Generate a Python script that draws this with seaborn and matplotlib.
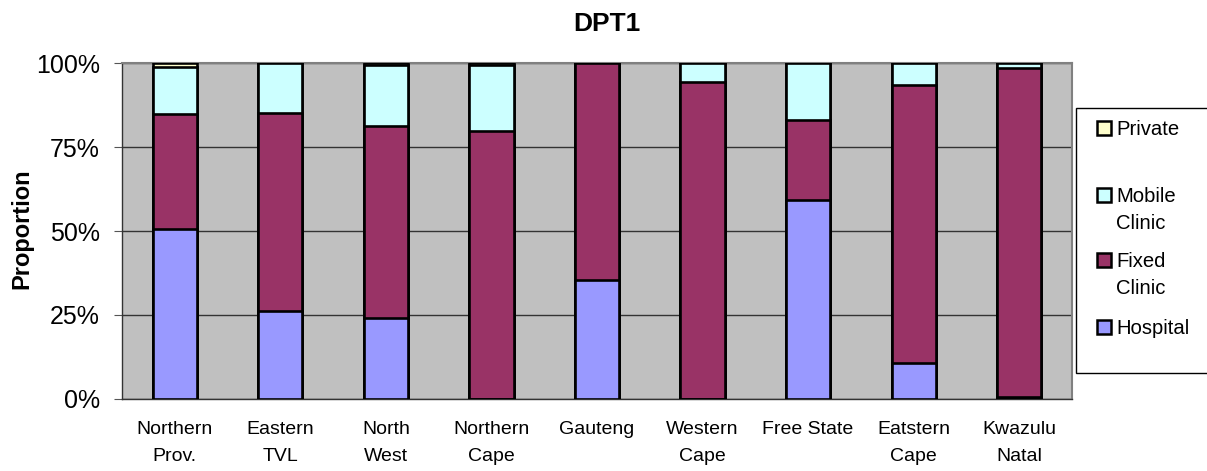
import matplotlib
matplotlib.use("Agg")
import matplotlib.pyplot as plt
import seaborn as sns
import pandas as pd
import numpy as np
from matplotlib.patches import Rectangle
from matplotlib.ticker import PercentFormatter, FixedLocator

provinces = ["Northern\nProv.", "Eastern\nTVL", "North\nWest", "Northern\nCape", "Gauteng",
             "Western\nCape", "Free State", "Eatstern\nCape", "Kwazulu\nNatal"]
hospital = [0.505, 0.262, 0.240, 0.000, 0.354, 0.000, 0.592, 0.107, 0.005]
fixed_clinic = [0.343, 0.589, 0.573, 0.798, 0.646, 0.944, 0.238, 0.827, 0.980]
mobile_clinic = [0.140, 0.149, 0.182, 0.196, 0.000, 0.056, 0.170, 0.066, 0.015]
private = [0.012, 0.000, 0.005, 0.006, 0.000, 0.000, 0.000, 0.000, 0.000]

series = ["Hospital", "Fixed Clinic", "Mobile Clinic", "Private"]
colors = {"Hospital": "#9999FF", "Fixed Clinic": "#993366",
          "Mobile Clinic": "#CCFFFF", "Private": "#FFFFCC"}

df = pd.DataFrame({"Province": provinces, "Hospital": hospital, "Fixed Clinic": fixed_clinic,
                   "Mobile Clinic": mobile_clinic, "Private": private})
cum = df[series].cumsum(axis=1)

sns.set_style("white", {"text.color": "black", "axes.labelcolor": "black",
                        "xtick.color": "black", "ytick.color": "black"})
plt.rcParams["font.family"] = ["Liberation Sans", "DejaVu Sans"]

W, H = 1207, 471
fig = plt.figure(figsize=(W / 100, H / 100), dpi=100)
ax = fig.add_axes([122 / W, 1 - 399 / H, 950 / W, 336 / H])
ax.set_facecolor("#C0C0C0")

# draw cumulative totals from the top layer down so each stack shows through
for s in reversed(series):
    sns.barplot(x=df["Province"], y=cum[s], color=colors[s], width=0.42,
                edgecolor="black", linewidth=1.9, saturation=1, ax=ax, zorder=3)

ax.set_ylim(0, 1)
ax.set_xlim(-0.5, len(provinces) - 0.5)
ax.yaxis.set_major_locator(FixedLocator([0, 0.25, 0.5, 0.75, 1.0]))
ax.yaxis.set_major_formatter(PercentFormatter(1.0, decimals=0))
ax.grid(axis="y", color="#333333", linewidth=1, zorder=1)
ax.set_axisbelow(True)

ax.set_xticks(range(len(provinces)))
ax.set_xticklabels(provinces, fontsize=14, linespacing=1.75)
ax.set_xticks(np.arange(-0.5, len(provinces), 1), minor=True)
ax.tick_params(axis="x", which="major", length=0, pad=16)
ax.tick_params(axis="x", which="minor", length=5, color="#555555", direction="out")
ax.tick_params(axis="y", labelsize=18, length=6, color="#555555", direction="out",
               left=True, pad=10)

for side in ["top", "right"]:
    ax.spines[side].set_color("#808080")
    ax.spines[side].set_linewidth(1.5)
for side in ["left", "bottom"]:
    ax.spines[side].set_color("#333333")
    ax.spines[side].set_linewidth(1)

ax.set_xlabel("")
ax.set_ylabel("")
fig.text(22 / W, 1 - 229 / H, "Proportion", rotation=90, fontsize=17, fontweight="bold",
         ha="center", va="center")
fig.text(607 / W, 1 - 24 / H, "DPT1", fontsize=19, fontweight="bold", ha="center", va="center")

# legend box, Excel style, running off the right edge
fig.patches.append(Rectangle((1076 / W, 1 - 373 / H), 200 / W, 265 / H, transform=fig.transFigure,
                             facecolor="white", edgecolor="black", linewidth=1, zorder=5))
legend_items = [(["Private"], "Private", 128), (["Mobile", "Clinic"], "Mobile Clinic", 195),
                (["Fixed", "Clinic"], "Fixed Clinic", 260), (["Hospital"], "Hospital", 327)]
for lines, key, ypix in legend_items:
    fig.patches.append(Rectangle((1097 / W, 1 - (ypix + 7) / H), 14 / W, 14 / H,
                                 transform=fig.transFigure, facecolor=colors[key],
                                 edgecolor="black", linewidth=1.8, zorder=6))
    for i, line in enumerate(lines):
        fig.text(1116 / W, 1 - (ypix + 7 + 27 * i) / H, line, fontsize=14.6, ha="left",
                 va="baseline", zorder=6)

fig.savefig("out.png", dpi=100)
plt.close(fig)
